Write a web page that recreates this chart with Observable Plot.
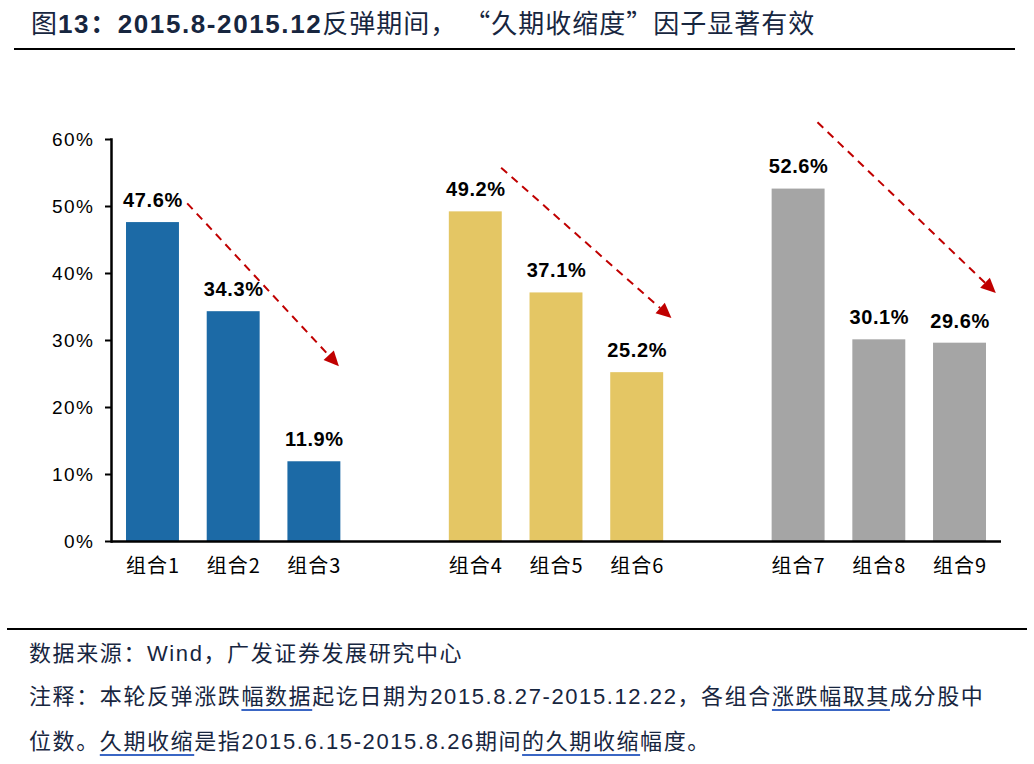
<!DOCTYPE html>
<html>
<head>
<meta charset="utf-8">
<script src="https://cdn.jsdelivr.net/npm/d3@7"></script>
<script src="https://cdn.jsdelivr.net/npm/@observablehq/plot@0.6"></script>
<style>
  body { margin: 0; background: #fff; }
  #wrap { position: relative; width: 1034px; height: 764px; font-family: "Liberation Sans", "Noto Sans CJK SC", sans-serif; }
  #title { position: absolute; left: 31px; top: 3px; font-size: 26px; font-weight: bold; color: #17263f; letter-spacing: 1.6px; font-family: "Liberation Sans", "Noto Sans CJK SC", sans-serif; white-space: nowrap; }
  #title .cjk { font-weight: normal; font-family: "Noto Sans CJK SC", sans-serif; letter-spacing: 1px; }
  #topline { position: absolute; left: 14px; top: 48px; width: 1001px; height: 2px; background: #000; }
  #botline { position: absolute; left: 7px; top: 628px; width: 1020px; height: 2px; background: #000; }
  #chart { position: absolute; left: 0; top: 60px; }
  .foot { position: absolute; left: 29px; font-size: 22px; letter-spacing: 1.6px; color: #17263f; font-family: "Liberation Sans", "Noto Sans CJK SC", sans-serif; white-space: nowrap; }
  .u { text-decoration: underline; text-decoration-color: #3a66c4; text-underline-offset: 5px; }
  svg .ytk text { letter-spacing: 1.5px; }
  svg .xtk text { letter-spacing: 1px; }
  svg .vlab text { letter-spacing: 0.6px; }
</style>
</head>
<body>
<div id="wrap">
  <div id="title"><span class="cjk">图</span>13：2015.8-2015.12<span class="cjk">反弹期间， “久期收缩度”因子显著有效</span></div>
  <div id="topline"></div>
  <div id="chart"></div>
  <div id="botline"></div>
  <div class="foot" style="top:635px">数据来源：Wind，广发证券发展研究中心</div>
  <div class="foot" style="top:678px">注释：本轮反弹涨跌<span class="u">幅数据</span>起讫日期为2015.8.27-2015.12.22，各组合<span class="u">涨跌幅取其</span>成分股中</div>
  <div class="foot" style="top:723px">位数。<span class="u">久期收缩</span>是指2015.6.15-2015.8.26期间<span class="u">的久期收缩</span>幅度。</div>
</div>
<script>
const categories = ["组合1","组合2","组合3"," ","组合4","组合5","组合6","  ","组合7","组合8","组合9"];
const groups = ["组合1","组合2","组合3","组合4","组合5","组合6","组合7","组合8","组合9"];
const values = [47.6, 34.3, 11.9, 49.2, 37.1, 25.2, 52.6, 30.1, 29.6];
const colorNames = ["A","A","A","B","B","B","C","C","C"];
const colorDomain = ["A","B","C"];
const colorRange = ["#1c6aa6", "#e4c664", "#a5a5a5"];
const yTicks = [0, 10, 20, 30, 40, 50, 60];
// arrows: from category (+ fraction of band step), y value -> to category
const arrowFrom = ["组合1","组合4","组合7"];
const arrowFromOffset = [0.43, 0.32, 0.24];
const arrowFromY = [50.4, 55.7, 62.5];
const arrowTo = ["组合3","组合6","组合9"];
const arrowToOffset = [0.31, 0.43, 0.45];
const arrowToY = [26.1, 33.3, 37.0];

const data = groups.map((g, i) => ({cat: g, value: values[i], grp: colorNames[i]}));

const chart = Plot.plot({
  width: 1034,
  height: 540,
  marginLeft: 111,
  marginRight: 33,
  marginTop: 79,
  marginBottom: 59,
  style: {fontFamily: "Liberation Sans, Noto Sans CJK SC, sans-serif", background: "transparent", overflow: "visible"},
  x: {domain: categories, paddingInner: 0.344, paddingOuter: 0.186, round: false, label: null},
  y: {domain: [0, 60], label: null},
  color: {domain: colorDomain, range: colorRange},
  marks: [
    Plot.barY(data, {x: "cat", y: "value", fill: "grp"}),
    Plot.text(data, {x: "cat", y: "value", text: d => d.value.toFixed(1) + "%", dy: -22, fontSize: 20, fontWeight: "bold", fill: "#000", className: "vlab"}),
    Plot.axisY({ticks: yTicks, tickFormat: d => d + "%", tickSize: 6, tickPadding: 11, fontSize: 19, stroke: "#000", strokeWidth: 2, fill: "#000", className: "ytk"}),
    Plot.axisX({tickSize: 0, tickPadding: 17, fontSize: 20, fill: "#000", fontFamily: "Noto Sans CJK SC, sans-serif", className: "xtk"}),
    Plot.ruleY([0], {stroke: "#000", strokeWidth: 2.5}),
    Plot.frame({anchor: "left", stroke: "#000", strokeWidth: 2.5})
  ]
});
document.getElementById("chart").appendChild(chart);

const sx = chart.scale("x");
const sy = chart.scale("y");
const step = sx.apply(categories[1]) - sx.apply(categories[0]);
const center = c => sx.apply(c) + sx.bandwidth / 2;
const svg = d3.select(chart);
const g = svg.append("g");
arrowFrom.forEach((c, i) => {
  const x1 = center(c) + arrowFromOffset[i] * step;
  const y1 = sy.apply(arrowFromY[i]);
  const x2 = center(arrowTo[i]) + arrowToOffset[i] * step;
  const y2 = sy.apply(arrowToY[i]);
  const ang = Math.atan2(y2 - y1, x2 - x1);
  const L = 15, W = 7;
  const bx = x2 - L * Math.cos(ang), by = y2 - L * Math.sin(ang);
  g.append("line").attr("x1", x1).attr("y1", y1).attr("x2", bx).attr("y2", by)
    .attr("stroke", "#c00000").attr("stroke-width", 2).attr("stroke-dasharray", "8,6");
  const px = -Math.sin(ang), py = Math.cos(ang);
  g.append("polygon")
    .attr("points", `${x2},${y2} ${bx + W*px},${by + W*py} ${bx - W*px},${by - W*py}`)
    .attr("fill", "#c00000");
});
</script>
</body>
</html>
